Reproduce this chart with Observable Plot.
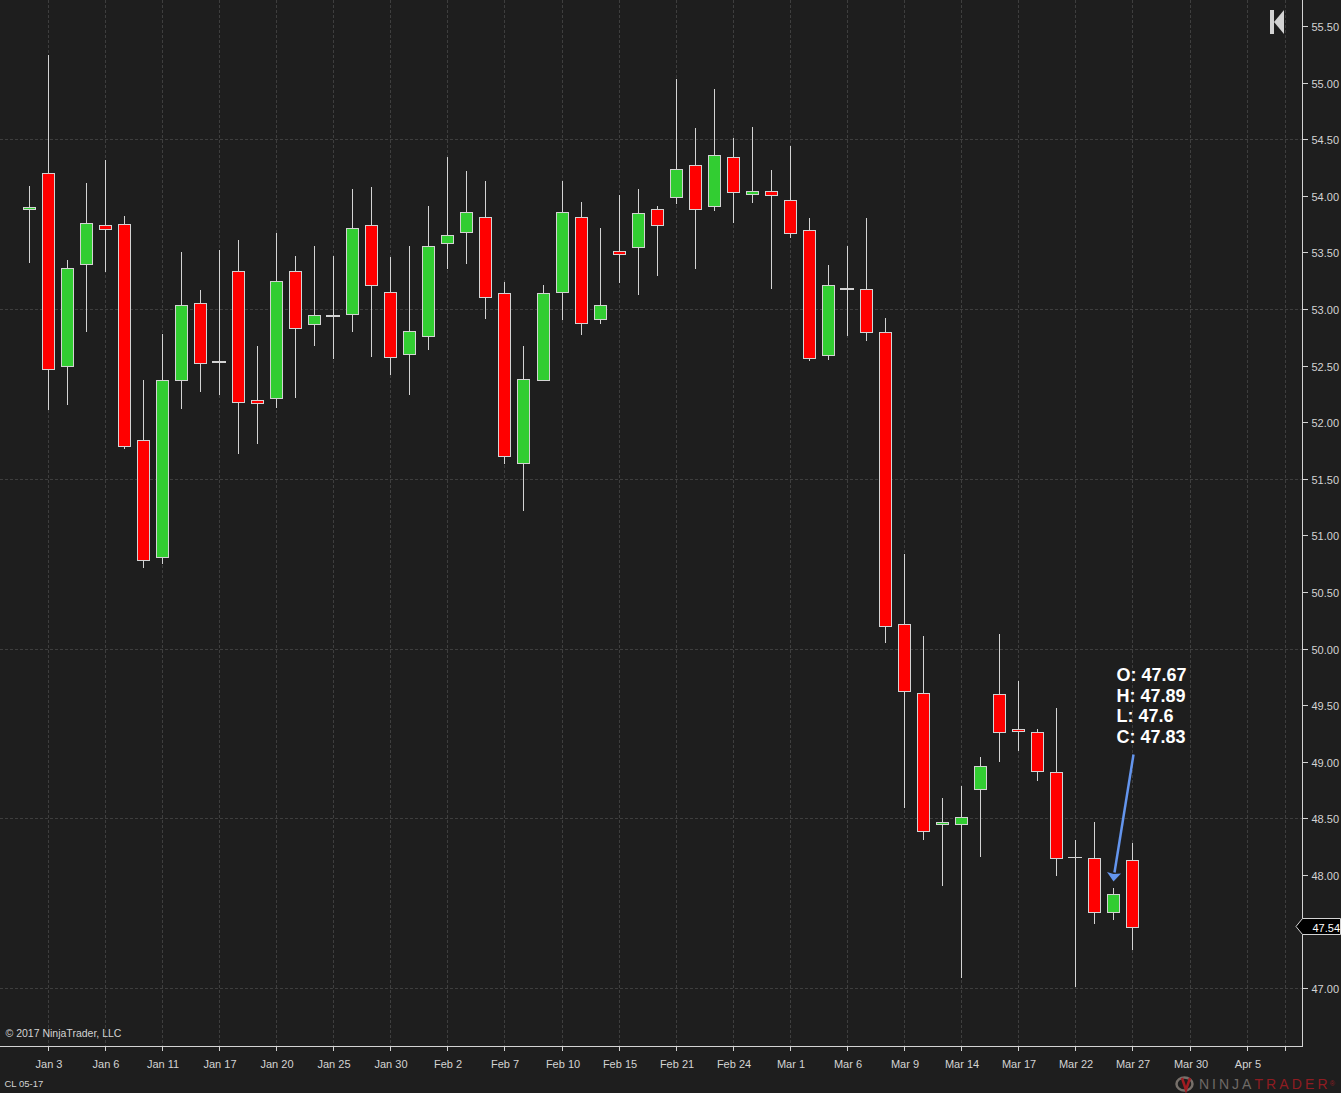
<!DOCTYPE html>
<html>
<head>
<meta charset="utf-8">
<script src="https://cdn.jsdelivr.net/npm/d3@7"></script>
<script src="https://cdn.jsdelivr.net/npm/@observablehq/plot@0.6"></script>
<style>
html,body{margin:0;padding:0;background:#1e1e1e;}
#wrap{position:relative;width:1341px;height:1093px;overflow:hidden;background:#1e1e1e;font-family:"Liberation Sans",Arial,sans-serif;}
#brand{position:absolute;left:1199px;top:1076px;font:14px/16px "Liberation Sans",Arial,sans-serif;letter-spacing:3px;white-space:nowrap;color:#6f6a66;}
#brand b{font-weight:normal;color:#8e1c22;letter-spacing:3.1px;margin-left:0;}
#brand i{font-style:normal;font-size:7px;letter-spacing:0;vertical-align:3px;color:#8e1c22;margin-left:-1px;}
.ico{position:absolute;}
</style>
</head>
<body>
<div id="wrap">
<div id="chart"></div>
<svg class="ico" style="left:1268px;top:9px" width="18" height="26"><rect x="2" y="1" width="4" height="24" fill="#d3d3d3"/><path d="M6 13L16 1V25Z" fill="#d3d3d3"/></svg>
<svg class="ico" style="left:1174px;top:1075px" width="22" height="18"><ellipse cx="10.5" cy="9" rx="8" ry="6.5" fill="none" stroke="#77706a" stroke-width="2.5"/><path d="M8 3L12 15L16 3" fill="none" stroke="#a01c22" stroke-width="2.5"/></svg>
<div id="brand">NINJA<b>TRADER</b><i>®</i></div>
</div>
<script>
const opens  = [53.88,54.20,52.50,53.40,53.74,53.75,51.84,50.81,52.37,53.05,52.54,53.34,52.20,52.21,53.34,52.87,52.95,52.96,53.74,53.15,52.60,52.76,53.58,53.68,53.81,53.14,51.64,52.37,53.15,53.81,52.91,53.51,53.55,53.88,53.99,54.27,53.91,54.34,54.02,54.04,53.96,53.70,52.59,53.19,53.18,52.80,50.22,49.61,48.45,48.45,48.76,49.60,49.29,49.26,48.91,48.16,48.15,47.67,48.13];
const highs  = [54.09,55.24,53.43,54.11,54.32,53.82,52.37,52.78,53.50,53.17,53.52,53.61,52.67,53.67,53.47,53.56,53.47,54.06,54.08,53.46,53.56,53.91,54.34,54.22,54.13,53.24,52.67,53.21,54.13,53.95,53.72,54.01,54.06,53.91,55.03,54.60,54.94,54.51,54.61,54.23,54.44,53.80,53.39,53.56,53.80,52.92,50.84,50.11,48.68,48.79,49.04,50.13,49.71,49.29,49.48,48.31,48.47,47.89,48.28];
const lows   = [53.41,52.11,52.15,52.80,53.33,51.76,50.71,50.75,52.12,52.27,52.24,51.72,51.81,52.13,52.21,52.67,52.56,52.80,52.58,52.42,52.24,52.64,53.35,53.40,52.91,51.63,51.22,52.37,52.90,52.77,52.87,53.23,53.12,53.29,53.93,53.35,53.87,53.76,53.94,53.18,53.63,52.54,52.55,52.76,52.72,50.05,48.59,48.31,47.90,47.09,48.16,49.00,49.10,48.83,47.99,47.01,47.57,47.60,47.34];
const closes = [53.90,52.47,53.36,53.76,53.71,51.79,50.78,52.37,53.04,52.52,52.54,52.18,52.17,53.25,52.83,52.95,52.95,53.72,53.21,52.58,52.81,53.56,53.65,53.86,53.11,51.70,52.38,53.14,53.86,52.88,53.04,53.49,53.85,53.74,54.24,53.88,54.36,54.03,54.04,54.01,53.67,52.57,53.21,53.19,52.80,50.20,49.63,48.39,48.47,48.51,48.96,49.26,49.27,48.92,48.15,48.16,47.67,47.83,47.54];

const tickBars   = [1,4,7,10,13,16,19,22,25,28,31,34,37,40,43,46,49,52,55,58,61,64,66];
const tickLabels = ["Jan 3","Jan 6","Jan 11","Jan 17","Jan 20","Jan 25","Jan 30","Feb 2","Feb 7","Feb 10","Feb 15","Feb 21","Feb 24","Mar 1","Mar 6","Mar 9","Mar 14","Mar 17","Mar 22","Mar 27","Mar 30","Apr 5",""];
const priceTicks = [47,47.5,48,48.5,49,49.5,50,50.5,51,51.5,52,52.5,53,53.5,54,54.5,55,55.5];
const priceGrid  = [47,48.5,50,51.5,53,54.5];
const noteLines  = ["O: 47.67","H: 47.89","L: 47.6","C: 47.83"];
const notePrices = [49.77,49.585,49.405,49.22];
const lastPrice  = 47.54;
const xDomain = [-1.508,66.91];
const yDomain = [46.49,55.73];

const bars = opens.map((o,i)=>({i,o,h:highs[i],l:lows[i],c:closes[i]}));
const notes = noteLines.map((t,k)=>({t,p:notePrices[k]}));
const RED="#ff0000", GREEN="#32cd32", LINE="#d3d3d3", GRID="#3e3e3e", BLUE="#6495ed", AXIS="#d3d3d3";
const tickMap = new Map(tickBars.map((b,k)=>[b,tickLabels[k]]));

const arrowHead = {draw(c){c.moveTo(0,5);c.lineTo(-6.5,-4.5);c.lineTo(0,-2.5);c.lineTo(7.5,-3);c.closePath();}};
const priceTag  = {draw(c){c.moveTo(-6.5,-1);c.lineTo(0,-9);c.lineTo(38,-9);c.lineTo(38,7);c.lineTo(0,7);c.closePath();}};

const plot = Plot.plot({
  width:1341,height:1093,marginLeft:0,marginRight:39,marginTop:0,marginBottom:47,
  style:{background:"#1e1e1e",fontFamily:"'Liberation Sans',Arial,sans-serif",fontSize:"11px"},
  x:{type:"linear",domain:xDomain,round:true,label:null},
  y:{type:"linear",domain:yDomain,round:true,label:null},
  marks:[
    Plot.ruleY(priceGrid,{stroke:GRID,strokeDasharray:"3,2"}),
    Plot.ruleX(tickBars,{stroke:GRID,strokeDasharray:"3,2"}),
    Plot.axisX({ticks:tickBars,text:null,tickSize:5,color:AXIS,label:null}),
    Plot.axisX({ticks:tickBars,tickFormat:d=>tickMap.get(d),tickSize:0,tickPadding:14,dx:0.5,color:AXIS,label:null,fontSize:11}),
    Plot.axisY({anchor:"right",ticks:priceTicks,text:null,tickSize:5,color:AXIS,label:null}),
    Plot.axisY({anchor:"right",ticks:priceTicks,tickFormat:d=>d===47.5?"":d3.format(".2f")(d),tickSize:0,tickPadding:9,dy:0.5,color:AXIS,label:null,fontSize:11}),
    Plot.frame({anchor:"right",stroke:LINE}),
    Plot.frame({anchor:"bottom",stroke:LINE}),
    Plot.ruleX(bars,{x:"i",y1:"l",y2:"h",stroke:LINE}),
    Plot.ruleY(bars.filter(d=>d.o===d.c&&d.i!==55),{y:"o",x1:"i",x2:"i",insetLeft:-7,insetRight:-7,dy:0.5,stroke:LINE,strokeWidth:2}),
    Plot.ruleY(bars.filter(d=>d.i===55),{y:"o",x1:"i",x2:"i",insetLeft:-7,insetRight:-7,stroke:LINE,strokeWidth:1}),
    Plot.rect(bars.filter(d=>d.o!==d.c),{x1:"i",x2:"i",y1:"o",y2:"c",insetLeft:-6,insetRight:-6,dx:0.5,dy:0.5,fill:d=>d.c>d.o?GREEN:RED,stroke:LINE,strokeWidth:1}),
    Plot.link([{x1:58.02,y1:49.07,x2:57.03,y2:48.03}],{x1:"x1",y1:"y1",x2:"x2",y2:"y2",stroke:BLUE,strokeWidth:2.5}),
    Plot.dot([{x:57,y:47.995}],{x:"x",y:"y",symbol:arrowHead,r:4,fill:BLUE,stroke:"none"}),
    Plot.text(notes,{x:()=>57.12,y:"p",text:"t",textAnchor:"start",fill:"#fff",fontSize:18,fontWeight:"bold"}),
    Plot.dot([lastPrice],{x:()=>xDomain[1],y:d=>d,symbol:priceTag,r:4,fill:"#000",stroke:LINE,strokeWidth:1}),
    Plot.text([lastPrice],{x:()=>xDomain[1],y:d=>d,text:d=>d.toFixed(2),dx:10,dy:1,textAnchor:"start",fill:"#fff",fontSize:11}),
    Plot.text(["© 2017 NinjaTrader, LLC"],{frameAnchor:"bottom-left",dx:5,dy:-10,textAnchor:"start",fill:AXIS,fontSize:10.5}),
    Plot.text(["CL 05-17"],{frameAnchor:"bottom-left",dx:4,dy:40,textAnchor:"start",fill:AXIS,fontSize:9.5})
  ]
});
document.getElementById("chart").appendChild(plot);
</script>
</body>
</html>
